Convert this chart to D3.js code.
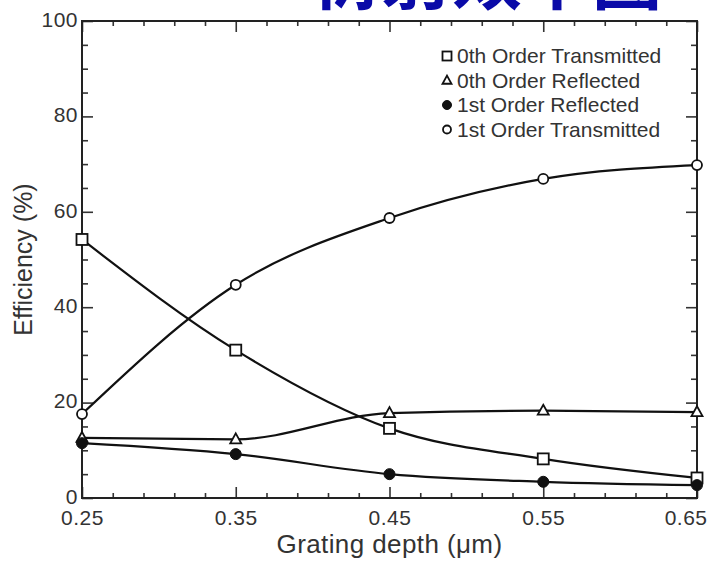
<!DOCTYPE html>
<html>
<head>
<meta charset="utf-8">
<script src="https://cdn.jsdelivr.net/npm/d3@7"></script>
<style>
  body { margin: 0; background: #fff; }
  text { font-family: "Liberation Sans", Arial, sans-serif; }
</style>
</head>
<body>
<div id="chart"></div>
<script>
// grating depth (um) and efficiency (%) per diffraction order
const depth = [0.25, 0.35, 0.45, 0.55, 0.65];
const zeroTransmitted = [54.2, 31.0, 14.6, 8.2, 4.2];
const zeroReflected = [12.6, 12.3, 17.8, 18.3, 18.0];
const firstReflected = [11.5, 9.2, 5.0, 3.4, 2.7];
const firstTransmitted = [17.6, 44.7, 58.7, 66.9, 69.8];

const seriesNames = ['0th Order Transmitted', '0th Order Reflected', '1st Order Reflected', '1st Order Transmitted'];
const seriesSymbols = ['square', 'triangle', 'dot', 'circle'];
const xTicks = [0.25, 0.35, 0.45, 0.55, 0.65];
const yTicks = [0, 20, 40, 60, 80, 100];
const titleText = '衍射效率图';

const width = 710;
const height = 563;
const margin = {top: 21, right: 13, bottom: 65, left: 82};

const svg = d3.select('#chart').append('svg')
  .attr('width', width)
  .attr('height', height);

// clipped slide title at the very top
svg.append('text')
  .attr('x', 312)
  .attr('y', 4)
  .style('font-family', '"Noto Sans CJK SC", sans-serif')
  .style('font-weight', 'bold')
  .style('font-size', '70px')
  .attr('fill', '#0a0aa8')
  .text(titleText);

const x = d3.scaleLinear().domain([0.25, 0.65]).range([margin.left, width - margin.right]);
const y = d3.scaleLinear().domain([0, 100]).range([height - margin.bottom, margin.top]);

const g = svg.append('g');

// minor / major ticks, all pointing into the plot
const xMinor = d3.range(0.27, 0.65, 0.02).filter(v => Math.abs(((v - 0.25) / 0.1) - Math.round((v - 0.25) / 0.1)) > 0.01);
const yMinor = d3.range(5, 100, 5).filter(v => v % 20 !== 0);

function tickAxis(axisFn, scale, values, size, tr) {
  const a = g.append('g')
    .attr('transform', tr)
    .call(axisFn(scale).tickValues(values).tickSize(size).tickFormat(''));
  a.select('.domain').remove();
  a.selectAll('line').attr('stroke', '#333').attr('stroke-width', 1.6);
  return a;
}

const bottomY = y(0), topY = y(100), leftX = x(0.25), rightX = x(0.65);

tickAxis(d3.axisTop, x, xTicks, 11, `translate(0,${bottomY})`);
tickAxis(d3.axisTop, x, xMinor, 5, `translate(0,${bottomY})`);
tickAxis(d3.axisBottom, x, xTicks, 11, `translate(0,${topY})`);
tickAxis(d3.axisBottom, x, xMinor, 5, `translate(0,${topY})`);
tickAxis(d3.axisRight, y, yTicks, 11, `translate(${leftX},0)`);
tickAxis(d3.axisRight, y, yMinor, 6, `translate(${leftX},0)`);
tickAxis(d3.axisLeft, y, yTicks, 11, `translate(${rightX},0)`);
tickAxis(d3.axisLeft, y, yMinor, 6, `translate(${rightX},0)`);

// frame
g.append('rect')
  .attr('x', leftX).attr('y', topY)
  .attr('width', rightX - leftX).attr('height', bottomY - topY)
  .attr('fill', 'none').attr('stroke', '#222').attr('stroke-width', 2);

// tick labels
const xLab = g.append('g')
  .attr('transform', `translate(0,${bottomY})`)
  .call(d3.axisBottom(x).tickValues(xTicks).tickSize(0).tickPadding(0).tickFormat(d3.format('.2f')));
xLab.select('.domain').remove();
xLab.selectAll('text')
  .attr('fill', '#333')
  .attr('y', 27)
  .attr('dy', null)
  .style('font-size', '21px')
  .style('letter-spacing', '0.5px');
// last label sits flush with the right edge
xLab.selectAll('text').filter(d => d === 0.65)
  .attr('text-anchor', 'end')
  .attr('x', 707 - rightX);

const yLab = g.append('g')
  .attr('transform', `translate(${leftX},0)`)
  .call(d3.axisLeft(y).tickValues(yTicks).tickSize(0).tickPadding(4));
yLab.select('.domain').remove();
yLab.selectAll('text').attr('fill', '#333').attr('dy', '0.25em').style('font-size', '21px').style('letter-spacing', '0.5px');

// axis titles
svg.append('text')
  .attr('x', (leftX + rightX) / 2)
  .attr('y', 553)
  .attr('text-anchor', 'middle')
  .attr('fill', '#333')
  .style('font-size', '26px')
  .style('letter-spacing', '0.4px')
  .text('Grating depth  (\u03bcm)');

svg.append('text')
  .attr('transform', `translate(32,${(topY + bottomY) / 2}) rotate(-90)`)
  .attr('text-anchor', 'middle')
  .attr('fill', '#333')
  .style('font-size', '25px')
  .text('Efficiency  (%)');

// series
const allSeries = [zeroTransmitted, zeroReflected, firstReflected, firstTransmitted];

const line = d3.line()
  .x((d, i) => x(depth[i]))
  .y(d => y(d))
  .curve(d3.curveMonotoneX);

const lines = g.append('g');
allSeries.forEach(vals => {
  lines.append('path')
    .attr('d', line(vals))
    .attr('fill', 'none')
    .attr('stroke', '#111')
    .attr('stroke-width', 2.2);
});

function drawSymbol(sel, kind, cx, cy, s) {
  if (kind === 'square') {
    sel.append('rect')
      .attr('x', cx - s / 2).attr('y', cy - s / 2).attr('width', s).attr('height', s)
      .attr('fill', '#fff').attr('stroke', '#111').attr('stroke-width', 1.8);
  } else if (kind === 'triangle') {
    const h = s * 0.9;
    sel.append('path')
      .attr('d', `M${cx},${cy - h * 0.6}L${cx + s / 2},${cy + h * 0.4}L${cx - s / 2},${cy + h * 0.4}Z`)
      .attr('fill', '#fff').attr('stroke', '#111').attr('stroke-width', 1.8);
  } else if (kind === 'dot') {
    sel.append('circle')
      .attr('cx', cx).attr('cy', cy).attr('r', s / 2)
      .attr('fill', '#111').attr('stroke', '#111').attr('stroke-width', 1);
  } else {
    sel.append('circle')
      .attr('cx', cx).attr('cy', cy).attr('r', s / 2 - 0.5)
      .attr('fill', '#fff').attr('stroke', '#111').attr('stroke-width', 1.8);
  }
}

const marks = g.append('g');
allSeries.forEach((vals, k) => {
  vals.forEach((v, i) => drawSymbol(marks, seriesSymbols[k], x(depth[i]), y(v), 11));
});

// legend
const legend = svg.append('g').attr('transform', 'translate(447,0)');
seriesNames.forEach((name, k) => {
  const by = 63 + k * 24.5;
  drawSymbol(legend, seriesSymbols[k], 0, by - 7, 9);
  legend.append('text')
    .attr('x', 10)
    .attr('y', by)
    .attr('fill', '#333')
    .style('font-size', '21px')
    .text(name);
});
</script>
</body>
</html>
